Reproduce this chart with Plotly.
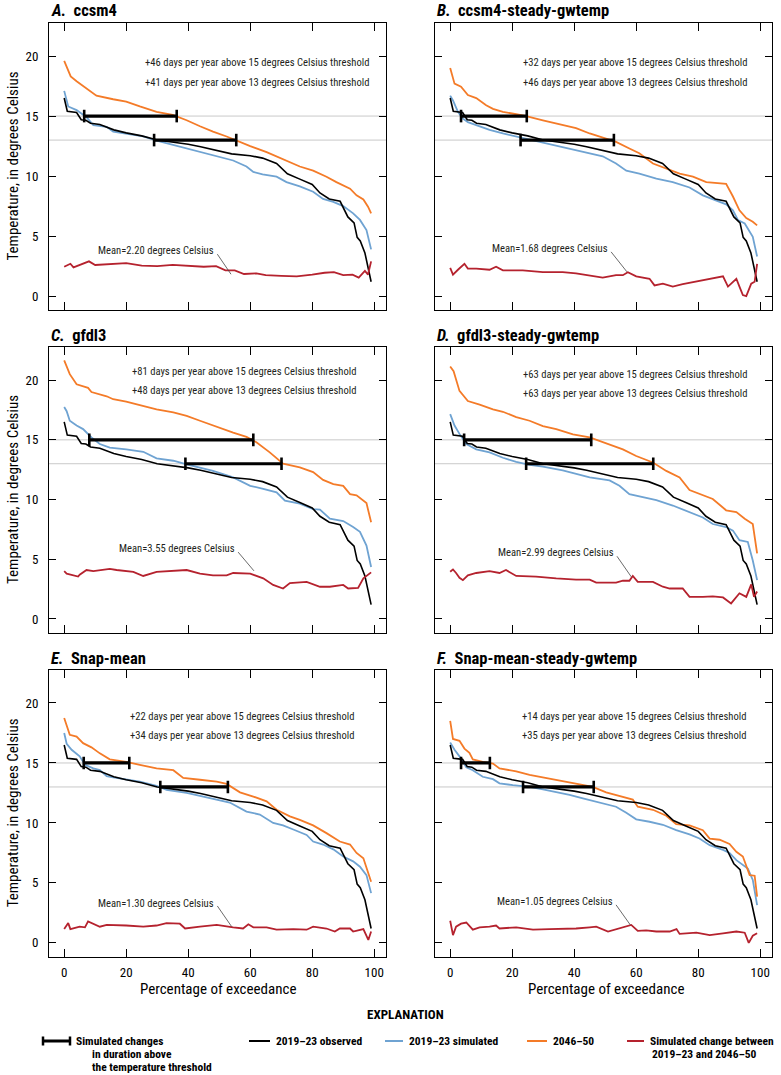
import plotly.graph_objects as go
from plotly.subplots import make_subplots

# ---------------- DATA ----------------
PANEL_LETTERS = ["A.", "B.", "C.", "D.", "E.", "F."]
PANEL_NAMES = ["ccsm4", "ccsm4-steady-gwtemp", "gfdl3", "gfdl3-steady-gwtemp",
               "Snap-mean", "Snap-mean-steady-gwtemp"]

# 2019-23 observed (same in every panel)
OBS_X = [0, 1, 4, 5.5, 7, 8.5, 11.5, 16, 20, 25, 30, 35, 40, 44, 49, 54, 60, 64, 68.5, 72,
         76, 80, 82.5, 85.5, 89, 91.5, 93.5, 94.5, 95.5, 97, 99]
OBS_Y = [16.5, 15.4, 15.3, 14.7, 14.65, 14.4, 14.3, 13.85, 13.6, 13.35, 13.0, 12.85, 12.65,
         12.45, 12.15, 11.85, 11.7, 11.5, 11.05, 10.2, 9.75, 9.3, 8.6, 8.1, 7.9, 6.6, 6.1,
         4.9, 4.6, 3.6, 1.2]

# Panel A
A_SIM_X = [0, 1.3, 4, 7.2, 9.4, 13.7, 15.8, 20, 25.5, 29.8, 35, 39.5, 43.8, 48, 54.5, 58.8,
           61, 64, 68.5, 71.7, 76, 80.3, 83.5, 86.8, 90, 93.2, 95.4, 97.5, 99]
A_SIM_Y = [17.1, 15.8, 15.5, 14.9, 14.25, 14.1, 13.7, 13.55, 13.3, 12.95, 12.6, 12.3, 12.0,
           11.75, 11.3, 10.8, 10.35, 10.15, 9.95, 9.5, 9.15, 8.7, 8.1, 7.85, 7.5, 6.9, 6.35,
           5.5, 3.9]
A_FUT_X = [0, 0.8, 2.1, 4, 7.2, 10.4, 15.8, 20, 24.4, 29.8, 35, 39.5, 43.8, 48, 52.4, 55.6,
           60, 65.3, 70.6, 76, 80.3, 84.6, 87.8, 92.2, 94.3, 96.5, 98, 99]
A_FUT_Y = [19.6, 19.1, 18.3, 17.9, 17.3, 16.7, 16.4, 16.2, 15.8, 15.35, 15.1, 14.65, 14.15,
           13.7, 13.3, 12.95, 12.5, 12.0, 11.4, 10.8, 10.45, 9.95, 9.5, 8.95, 8.4, 8.05,
           7.45, 6.9]
A_CHG_X = [0, 2, 3, 5, 8, 10, 15, 20, 25, 30, 35, 40, 45, 49, 52, 55, 58, 62, 65, 70, 75,
           80, 84, 87, 90, 93, 95, 97, 98, 99]
A_CHG_Y = [2.45, 2.7, 2.4, 2.6, 2.9, 2.6, 2.7, 2.75, 2.55, 2.5, 2.6, 2.5, 2.45, 2.5, 2.15,
           2.15, 1.85, 1.9, 1.75, 1.7, 1.65, 1.8, 1.95, 2.0, 1.75, 1.8, 1.55, 2.1, 1.8, 2.9]

# Panel B
B_SIM_X = [0, 0.9, 2.5, 4, 5.7, 8.4, 12.7, 17, 21.3, 25.6, 29.9, 36.3, 40.6, 45, 49.2, 53.5,
           56.8, 61, 66.5, 71.8, 77.2, 81.5, 84.7, 89, 91.2, 92.8, 95, 97.6, 99]
B_SIM_Y = [16.7, 16.3, 15.35, 14.8, 14.5, 14.25, 13.85, 13.55, 13.3, 13.05, 12.8, 12.45,
           12.2, 11.95, 11.65, 11.05, 10.45, 10.2, 9.8, 9.5, 9.05, 8.4, 8.1, 7.65, 7.15,
           6.35, 6.05, 4.95, 3.3]
B_FUT_X = [0, 1.4, 3.5, 5.7, 8.4, 11.6, 13.8, 17, 21.3, 24.5, 29.9, 36.3, 40.6, 45, 49.2,
           53.5, 57.8, 61, 65.4, 69.7, 74, 78.3, 82.6, 89, 91.2, 93.3, 95.5, 97.6, 99]
B_FUT_Y = [19.0, 17.7, 17.45, 16.75, 16.5, 15.9, 15.6, 15.35, 15.15, 15.0, 14.65, 14.25,
           14.0, 13.55, 13.2, 12.85, 12.3, 11.9, 11.05, 10.65, 10.2, 9.95, 9.5, 9.35, 8.3,
           7.15, 6.5, 6.2, 5.9]
B_CHG_X = [0, 0.9, 2.5, 4.6, 5.7, 8.4, 12.7, 14.8, 17, 23.4, 29.9, 36.3, 40.6, 45, 49.2,
           53.5, 55.7, 57.3, 60, 64.3, 65.9, 68.6, 71.8, 75, 79.4, 83.7, 86.9, 88, 89.6,
           92.3, 93.3, 94.4, 95.5, 97.1, 98.2, 99]
B_CHG_Y = [2.35, 1.8, 2.2, 2.7, 2.3, 2.3, 2.2, 2.45, 2.15, 2.15, 2.0, 2.0, 1.9, 1.75, 1.55,
           1.75, 1.75, 2.0, 1.65, 1.45, 0.9, 1.05, 0.8, 1.0, 1.2, 1.4, 1.6, 1.65, 0.8, 1.45,
           0.8, 0.1, 0.0, 1.05, 1.2, 2.7]

# Panel C
C_SIM_X = [0, 0.8, 1.8, 4, 6.1, 8.8, 11.5, 14.7, 20, 25.5, 29.8, 35.2, 39.5, 43.8, 48, 54.5,
           60, 64.2, 68.5, 71.2, 76, 80.3, 82.5, 85.7, 90, 93.2, 95.4, 97.5, 99]
C_SIM_Y = [17.75, 17.4, 16.6, 16.2, 15.9, 15.2, 14.65, 14.35, 14.2, 14.0, 13.45, 13.25,
           12.95, 12.65, 12.4, 11.85, 11.15, 10.9, 10.6, 9.9, 9.65, 9.2, 9.15, 8.4, 8.2,
           7.7, 7.3, 6.15, 4.35]
C_FUT_X = [0, 1.8, 4, 7.7, 8.8, 13.7, 15.8, 20, 24.4, 29.8, 35.2, 39.5, 43.8, 48, 54.5,
           58.8, 62, 66.3, 70.6, 76, 80.3, 83.5, 86.8, 90, 92.2, 94.3, 97.5, 99]
C_FUT_Y = [21.65, 20.5, 19.65, 19.35, 19.0, 18.65, 18.4, 18.2, 17.9, 17.55, 17.3, 17.0,
           16.6, 16.2, 15.6, 15.25, 14.8, 13.95, 13.0, 12.7, 12.3, 11.65, 11.3, 11.15,
           10.45, 10.35, 9.7, 8.1]
C_CHG_X = [0, 0.8, 4.5, 5, 7.2, 9.4, 14.7, 16.9, 22.3, 25.5, 29.8, 35.2, 39.5, 43.8, 48,
           52.4, 54.5, 60, 64.2, 67.4, 70.6, 72.8, 78.2, 82.5, 85.7, 90, 91.6, 94.8, 96.5, 99]
C_CHG_Y = [4.0, 3.8, 3.55, 3.7, 4.1, 4.0, 4.2, 4.1, 3.95, 3.6, 3.95, 4.0, 4.1, 3.8, 3.65,
           3.65, 3.85, 3.8, 3.4, 2.85, 2.55, 3.0, 3.1, 2.7, 2.7, 2.85, 2.55, 2.6, 3.4, 3.9]

# Panel D
D_SIM_X = [0, 1.4, 3, 5.2, 8.4, 12.7, 17, 21.3, 25.6, 29.9, 36.3, 40.6, 45, 51.4, 54.6,
           57.8, 62.2, 66.5, 71.8, 77.2, 81.5, 84.7, 89, 91.2, 93.3, 96, 97.6, 99]
D_SIM_Y = [17.15, 16.2, 15.5, 14.65, 14.2, 13.95, 13.5, 13.15, 12.9, 12.75, 12.45, 12.15,
           11.85, 11.6, 11.15, 10.45, 10.2, 9.95, 9.5, 8.95, 8.5, 7.95, 7.7, 7.4, 6.6, 6.45,
           4.9, 3.25]
D_FUT_X = [0, 1.1, 3, 5.7, 9.5, 13.8, 17, 21.3, 25.6, 29.9, 34.2, 39.6, 45, 49.2, 55.7, 60,
           65.4, 69.7, 74, 77.2, 81.5, 84.7, 89, 92.3, 95, 97.6, 99]
D_FUT_Y = [21.15, 20.75, 19.1, 18.25, 17.95, 17.55, 17.35, 16.9, 16.6, 16.15, 15.9, 15.45,
           15.2, 14.8, 14.2, 13.65, 13.1, 12.4, 11.85, 10.8, 10.4, 10.05, 9.1, 8.95, 8.4,
           7.95, 5.5]
D_CHG_X = [0, 0.9, 1.9, 3, 4.1, 5.7, 8.4, 12.7, 15.9, 18, 21.3, 27.7, 34.2, 40.6, 45, 47.1,
           53.5, 55.7, 57.8, 58.9, 60.5, 65.4, 68.6, 70.8, 75, 77.2, 81.5, 84.7, 88, 90.6,
           93.3, 95.5, 97.1, 98, 99]
D_CHG_Y = [3.95, 4.15, 3.85, 3.45, 3.25, 3.65, 3.85, 4.0, 3.85, 4.1, 3.6, 3.55, 3.4, 3.3,
           3.3, 3.05, 3.05, 3.2, 3.2, 3.6, 3.1, 3.1, 2.7, 2.55, 2.55, 1.85, 1.85, 1.9, 1.8,
           1.3, 2.15, 1.85, 2.9, 1.85, 2.3]

# Panel E
E_SIM_X = [0, 0.8, 2.4, 5, 6.7, 9.4, 11.5, 13.7, 15.8, 20, 24.4, 29.8, 33, 39.5, 43.8, 48,
           53.4, 58.8, 63.1, 67.4, 70.6, 73.9, 78.2, 80.3, 83.5, 86.8, 90, 93.2, 95.4, 97.5, 99]
E_SIM_Y = [17.5, 16.6, 16.1, 15.55, 14.85, 14.55, 14.4, 13.9, 13.8, 13.65, 13.45, 13.1,
           12.75, 12.5, 12.25, 12.05, 11.7, 10.95, 10.7, 10.0, 9.8, 9.45, 9.0, 8.45, 8.2,
           7.8, 7.2, 6.8, 6.35, 5.65, 4.15]
E_FUT_X = [0, 1.8, 4, 6.1, 8.8, 11.5, 14.7, 20, 24.4, 29.8, 35.2, 38.4, 43.8, 49.2, 52.4,
           56.7, 61, 65.3, 68.5, 72.8, 76, 80.3, 84.6, 88.9, 92.2, 94.3, 96.5, 99]
E_FUT_Y = [18.75, 17.35, 17.2, 16.65, 16.3, 15.8, 15.3, 15.1, 14.85, 14.55, 14.4, 13.75,
           13.6, 13.45, 13.25, 12.55, 12.2, 11.8, 11.1, 10.55, 10.25, 9.8, 9.15, 8.45, 8.2,
           7.5, 7.05, 5.1]
E_CHG_X = [0, 1.3, 2, 5, 6.7, 7.7, 11.5, 13.7, 20, 25.5, 29.8, 33, 37.3, 39, 43.8, 49.2,
           54.5, 57.7, 59.4, 61, 65.3, 68.5, 73.9, 78.2, 80.3, 84.6, 87.3, 88.9, 92.2, 93.2,
           96.5, 98.1, 99]
E_CHG_Y = [1.15, 1.65, 1.15, 1.35, 1.3, 1.8, 1.35, 1.5, 1.45, 1.35, 1.45, 1.65, 1.6, 1.2,
           1.35, 1.5, 1.3, 1.2, 1.55, 1.3, 1.3, 1.1, 1.15, 1.1, 1.35, 1.2, 0.95, 1.2, 1.2,
           0.95, 1.15, 0.25, 0.95]

# Panel F
F_SIM_X = [0, 1.4, 3, 5.2, 7.3, 10.5, 13.8, 15.9, 20.2, 25.6, 29.9, 34.2, 38.5, 42.8, 48.2,
           53.5, 56.8, 60, 64.3, 68.6, 72.9, 77.2, 80.4, 83.7, 88, 90.1, 92.3, 94.4, 96,
           97.6, 99]
F_SIM_Y = [16.7, 16.1, 15.55, 14.65, 14.4, 13.85, 13.65, 13.3, 13.15, 13.0, 12.8, 12.6,
           12.35, 12.05, 11.7, 11.35, 10.85, 10.3, 10.1, 9.85, 9.4, 9.05, 8.7, 8.15, 7.75,
           7.5, 6.9, 6.5, 6.2, 5.25, 3.15]
F_FUT_X = [0, 0.9, 3, 4.6, 6.2, 7.3, 10.5, 13.8, 15.9, 21.3, 25.6, 29.9, 36.3, 40.6, 46,
           50.3, 55.7, 58.9, 60.5, 65.4, 69.7, 72.9, 77.2, 81.5, 83.7, 86.9, 90.1, 92.3,
           94.4, 96.6, 98.2, 99]
F_FUT_Y = [18.5, 17.0, 16.85, 16.2, 15.85, 15.3, 15.1, 14.95, 14.55, 14.3, 14.0, 13.8,
           13.5, 13.3, 13.0, 12.55, 12.2, 11.95, 11.35, 11.1, 10.6, 9.9, 9.8, 9.4, 8.7, 8.6,
           8.25, 7.6, 7.2, 5.65, 5.6, 3.85]
F_CHG_X = [0, 0.9, 1.9, 3.5, 5.2, 7.3, 9.5, 12.7, 14.8, 15.9, 21.3, 26.7, 32, 36.3, 40.6,
           45, 47.1, 50.9, 55.7, 58.4, 60.5, 63.2, 66.5, 70.8, 73, 74, 79.4, 83.7, 88, 92.3,
           95, 96.3, 97.6, 99]
F_CHG_Y = [1.85, 0.65, 1.35, 1.6, 1.7, 1.1, 1.3, 1.35, 1.45, 1.2, 1.3, 1.1, 1.15, 1.15,
           1.2, 1.3, 1.35, 0.95, 1.3, 1.5, 1.0, 1.05, 0.95, 0.95, 1.15, 0.75, 0.85, 0.65,
           0.8, 0.95, 0.85, 0.0, 0.6, 0.8]

# Simulated changes in duration above threshold (start, end percentage of exceedance)
THRESHOLDS = [15, 13]
BAR15_START = [6.45, 3.5, 8.1, 4.5, 6.3, 3.5]
BAR15_END = [36.3, 24.7, 61.0, 45.5, 21.0, 12.8]
BAR13_START = [29.0, 22.7, 39.1, 24.5, 31.0, 23.5]
BAR13_END = [55.5, 52.8, 70.1, 65.5, 52.8, 46.3]

DAYS15 = [46, 32, 81, 63, 22, 14]
DAYS13 = [41, 46, 48, 63, 34, 35]
MEANS = ["2.20", "1.68", "3.55", "2.99", "1.30", "1.05"]

SIM_X = [A_SIM_X, B_SIM_X, C_SIM_X, D_SIM_X, E_SIM_X, F_SIM_X]
SIM_Y = [A_SIM_Y, B_SIM_Y, C_SIM_Y, D_SIM_Y, E_SIM_Y, F_SIM_Y]
FUT_X = [A_FUT_X, B_FUT_X, C_FUT_X, D_FUT_X, E_FUT_X, F_FUT_X]
FUT_Y = [A_FUT_Y, B_FUT_Y, C_FUT_Y, D_FUT_Y, E_FUT_Y, F_FUT_Y]
CHG_X = [A_CHG_X, B_CHG_X, C_CHG_X, D_CHG_X, E_CHG_X, F_CHG_X]
CHG_Y = [A_CHG_Y, B_CHG_Y, C_CHG_Y, D_CHG_Y, E_CHG_Y, F_CHG_Y]

X_TICKS = [0, 20, 40, 60, 80, 100]
Y_TICKS = [0, 5, 10, 15, 20]

# ---------------- STYLE / LAYOUT ----------------
W, H = 781, 1075
FONT = "Roboto Condensed, Liberation Sans Narrow, Roboto, sans-serif"
C_OBS = "#000000"
C_SIM = "#6fa3d2"
C_FUT = "#f47b28"
C_CHG = "#b5222e"
C_REF = "#c9c9c9"

COL_PX = [(49, 386), (435, 772)]
ROW_PX = [(23, 310), (347.3, 632.7), (670, 956.7)]
XR = [-4.9, 103.8]
YR = [-1.15, 22.75]

# annotation placement (data coords) per panel
TXT_X = [98.8, 96.5, 94.8, 96.3, 94.1, 96.1]
TXT_Y15 = [19.5, 19.5, 20.7, 20.5, 18.9, 18.9]
TXT_Y13 = [17.8, 17.8, 19.1, 18.9, 17.3, 17.3]
MEAN_TY = [3.78, 3.97, 5.9, 5.53, 3.3, 3.44]
LEAD_X0 = [49.4, 51.9, 56.1, 53.8, 49.4, 53.5]
LEAD_Y0 = [3.5, 3.69, 5.6, 5.25, 3.08, 3.17]
LEAD_X1 = [53.8, 57.0, 61.2, 58.4, 54.0, 58.1]
LEAD_Y1 = [1.83, 2.03, 4.03, 3.53, 1.36, 1.5]
XTITLE_SHIFT = [0, 2]


def px_x(p):
    return p / W


def px_y(p):
    return 1 - p / H


fig = make_subplots(rows=3, cols=2)
annotations = []
shapes = []
NOTE_FONT = dict(family=FONT, size=10.6, color="#231f20")

for i in range(6):
    r, c = i // 2, i % 2
    n = i + 1
    xa = "x" if n == 1 else f"x{n}"
    ya = "y" if n == 1 else f"y{n}"
    xkey = "xaxis" if n == 1 else f"xaxis{n}"
    ykey = "yaxis" if n == 1 else f"yaxis{n}"
    x0p, x1p = COL_PX[c]
    y0p, y1p = ROW_PX[r]

    common = dict(showline=True, linecolor="black", linewidth=1, mirror="ticks",
                  ticks="inside", tickcolor="black", tickwidth=1, showgrid=False,
                  zeroline=False, tickfont=dict(family=FONT, size=13, color="black"))
    fig.update_layout({
        xkey: dict(domain=[px_x(x0p), px_x(x1p)], range=XR, tickvals=X_TICKS,
                   showticklabels=(r == 2), ticklen=8, ticklabelstandoff=4, **common),
        ykey: dict(domain=[px_y(y1p), px_y(y0p)], range=YR, tickvals=Y_TICKS,
                   showticklabels=(c == 0), ticklen=7, ticklabelstandoff=7, **common),
    })

    # threshold reference lines
    for t in THRESHOLDS:
        shapes.append(dict(type="line", xref=f"{xa} domain", yref=ya, x0=0, x1=1,
                           y0=t, y1=t, line=dict(color=C_REF, width=1), layer="below"))

    fig.add_trace(go.Scatter(x=SIM_X[i], y=SIM_Y[i], mode="lines",
                             line=dict(color=C_SIM, width=1.8), showlegend=False,
                             hoverinfo="skip"), row=r + 1, col=c + 1)
    fig.add_trace(go.Scatter(x=FUT_X[i], y=FUT_Y[i], mode="lines",
                             line=dict(color=C_FUT, width=1.8), showlegend=False,
                             hoverinfo="skip"), row=r + 1, col=c + 1)
    fig.add_trace(go.Scatter(x=OBS_X, y=OBS_Y, mode="lines",
                             line=dict(color=C_OBS, width=1.6), showlegend=False,
                             hoverinfo="skip"), row=r + 1, col=c + 1)
    fig.add_trace(go.Scatter(x=CHG_X[i], y=CHG_Y[i], mode="lines",
                             line=dict(color=C_CHG, width=1.8), showlegend=False,
                             hoverinfo="skip"), row=r + 1, col=c + 1)
    for (xs, xe, t) in [(BAR15_START[i], BAR15_END[i], 15), (BAR13_START[i], BAR13_END[i], 13)]:
        fig.add_trace(go.Scatter(x=[xs, xe], y=[t, t], mode="lines+markers",
                                 line=dict(color="black", width=3.2),
                                 marker=dict(symbol="line-ns", size=9,
                                             line=dict(color="black", width=2.6)),
                                 showlegend=False, hoverinfo="skip"),
                      row=r + 1, col=c + 1)

    # threshold texts
    annotations.append(dict(xref=xa, yref=ya, x=TXT_X[i], y=TXT_Y15[i], xanchor="right",
                            yanchor="middle", showarrow=False,
                            text=f"+{DAYS15[i]} days per year above 15 degrees Celsius threshold",
                            font=NOTE_FONT))
    annotations.append(dict(xref=xa, yref=ya, x=TXT_X[i], y=TXT_Y13[i], xanchor="right",
                            yanchor="middle", showarrow=False,
                            text=f"+{DAYS13[i]} days per year above 13 degrees Celsius threshold",
                            font=NOTE_FONT))
    # mean label + leader
    annotations.append(dict(xref=xa, yref=ya, x=LEAD_X0[i] - 0.3, y=MEAN_TY[i],
                            xanchor="right", yanchor="middle", showarrow=False,
                            text=f"Mean={MEANS[i]} degrees Celsius", font=NOTE_FONT))
    shapes.append(dict(type="line", xref=xa, yref=ya, x0=LEAD_X0[i], y0=LEAD_Y0[i],
                       x1=LEAD_X1[i], y1=LEAD_Y1[i], line=dict(color="#444444", width=0.8)))

    # panel title
    annotations.append(dict(xref="paper", yref="paper", x=px_x(x0p), y=px_y(y0p - 12),
                            xanchor="left", yanchor="middle", showarrow=False,
                            text=f"<b><i>{PANEL_LETTERS[i]}</i></b>\u2002<b>{PANEL_NAMES[i]}</b>",
                            font=dict(family=FONT, size=16.5, color="black")))

    if c == 0:
        annotations.append(dict(xref="paper", yref="paper", x=px_x(13),
                                y=px_y((y0p + y1p) / 2), xanchor="center", yanchor="middle",
                                textangle=-90, showarrow=False,
                                text="Temperature, in degrees Celsius",
                                font=dict(family=FONT, size=15, color="black")))
    if r == 2:
        annotations.append(dict(xref="paper", yref="paper",
                                x=px_x((x0p + x1p) / 2 + XTITLE_SHIFT[c]),
                                y=px_y(989), xanchor="center", yanchor="middle",
                                showarrow=False, text="Percentage of exceedance",
                                font=dict(family=FONT, size=15, color="black")))

# ---------------- EXPLANATION ----------------
LEG_FONT = dict(family=FONT, size=11.5, color="black")
annotations.append(dict(xref="paper", yref="paper", x=px_x(405), y=px_y(1014),
                        xanchor="center", yanchor="middle", showarrow=False,
                        text="<b>EXPLANATION</b>", font=dict(family=FONT, size=13, color="black")))
LY = [1041, 1054, 1067]
# duration bar key
shapes.append(dict(type="line", xref="paper", yref="paper", x0=px_x(43), x1=px_x(70),
                   y0=px_y(LY[0]), y1=px_y(LY[0]), line=dict(color="black", width=3)))
for xp in (43, 70):
    shapes.append(dict(type="line", xref="paper", yref="paper", x0=px_x(xp), x1=px_x(xp),
                       y0=px_y(LY[0] - 4.5), y1=px_y(LY[0] + 4.5),
                       line=dict(color="black", width=2.5)))
leg_text = [(74, LY[0], "Simulated changes"), (90, LY[1], "in duration above"),
            (90, LY[2], "the temperature threshold")]
for xp, yp, t in leg_text:
    annotations.append(dict(xref="paper", yref="paper", x=px_x(xp), y=px_y(yp),
                            xanchor="left", yanchor="middle", showarrow=False,
                            text=f"<b>{t}</b>", font=LEG_FONT))

LEG_ITEMS = [(249, 270, C_OBS, "2019\u201323 observed"),
             (385, 403, C_SIM, "2019\u201323 simulated"),
             (527, 547, C_FUT, "2046\u201350"),
             (627, 644, C_CHG, "Simulated change between")]
for xa0, xa1, col, t in LEG_ITEMS:
    shapes.append(dict(type="line", xref="paper", yref="paper", x0=px_x(xa0), x1=px_x(xa1),
                       y0=px_y(LY[0]), y1=px_y(LY[0]), line=dict(color=col, width=2)))
    annotations.append(dict(xref="paper", yref="paper", x=px_x(xa1 + 4), y=px_y(LY[0]),
                            xanchor="left", yanchor="middle", showarrow=False,
                            text=f"<b>{t}</b>", font=LEG_FONT))
annotations.append(dict(xref="paper", yref="paper", x=px_x(704), y=px_y(LY[1]),
                        xanchor="center", yanchor="middle", showarrow=False,
                        text="<b>2019\u201323 and 2046\u201350</b>", font=LEG_FONT))

fig.update_layout(width=W, height=H, margin=dict(l=0, r=0, t=0, b=0),
                  paper_bgcolor="white", plot_bgcolor="white",
                  annotations=annotations, shapes=shapes, showlegend=False,
                  font=dict(family=FONT, color="black"))

fig.write_html("out.html", config={"displayModeBar": False},
               post_script="document.body.style.margin='0px';")
